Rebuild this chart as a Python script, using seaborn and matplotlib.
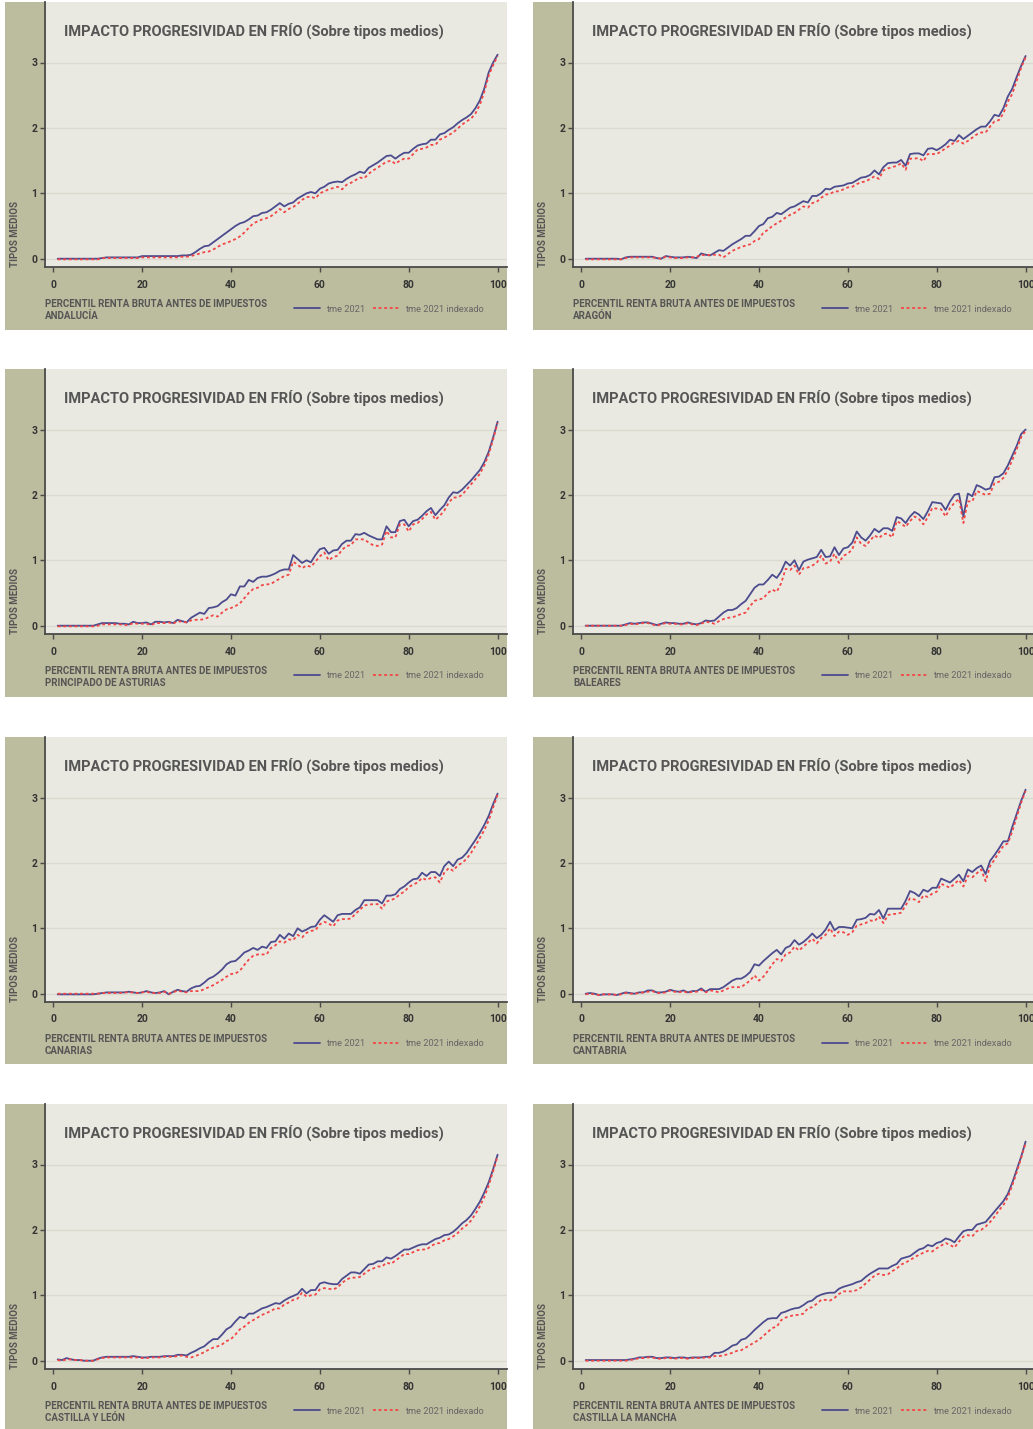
import matplotlib
matplotlib.use("Agg")
import matplotlib.pyplot as plt
import seaborn as sns
import pandas as pd
from matplotlib.patches import Rectangle
from matplotlib.transforms import Bbox, TransformedBbox

# ---------------------------------------------------------------- datos
percentil = list(range(1, 101))
x_ticks = [0, 20, 40, 60, 80, 100]
y_ticks = [0, 1, 2, 3]

titulo = "IMPACTO PROGRESIVIDAD EN FRÍO (Sobre tipos medios)"
eje_x = "PERCENTIL RENTA BRUTA ANTES DE IMPUESTOS"
eje_y = "TIPOS MEDIOS"
serie_1 = "tme 2021"
serie_2 = "tme 2021 indexado"

regiones = ["ANDALUCÍA", "ARAGÓN", "PRINCIPADO DE ASTURIAS", "BALEARES",
            "CANARIAS", "CANTABRIA", "CASTILLA Y LEÓN", "CASTILLA LA MANCHA"]

tme_andalucia = [
    0.00, 0.00, 0.00, 0.00, 0.00, 0.00, 0.00, 0.00, 0.00, 0.00,
    0.01, 0.02, 0.02, 0.02, 0.02, 0.02, 0.02, 0.02, 0.02, 0.04,
    0.04, 0.04, 0.04, 0.04, 0.04, 0.04, 0.04, 0.04, 0.05, 0.05,
    0.06, 0.10, 0.15, 0.19, 0.20, 0.25, 0.30, 0.35, 0.40, 0.45,
    0.50, 0.54, 0.56, 0.60, 0.65, 0.66, 0.70, 0.71, 0.75, 0.80,
    0.85, 0.80, 0.84, 0.86, 0.92, 0.96, 1.00, 1.02, 1.00, 1.07,
    1.10, 1.15, 1.17, 1.18, 1.17, 1.22, 1.26, 1.29, 1.33, 1.31,
    1.39, 1.43, 1.47, 1.52, 1.57, 1.58, 1.53, 1.58, 1.62, 1.62,
    1.68, 1.73, 1.75, 1.76, 1.82, 1.82, 1.90, 1.92, 1.97, 2.01,
    2.07, 2.12, 2.16, 2.21, 2.30, 2.42, 2.60, 2.85, 3.00, 3.12]
tme_idx_andalucia = [
    -0.01, -0.01, -0.01, -0.01, -0.01, -0.01, -0.01, -0.01, -0.01, -0.01,
    0.01, 0.01, 0.01, 0.01, 0.01, 0.01, 0.01, 0.01, 0.01, 0.02,
    0.02, 0.02, 0.02, 0.02, 0.02, 0.02, 0.02, 0.02, 0.03, 0.03,
    0.04, 0.06, 0.08, 0.10, 0.11, 0.14, 0.18, 0.22, 0.24, 0.27,
    0.30, 0.34, 0.40, 0.47, 0.54, 0.57, 0.60, 0.62, 0.65, 0.70,
    0.76, 0.71, 0.76, 0.79, 0.84, 0.90, 0.94, 0.95, 0.92, 1.00,
    1.03, 1.06, 1.08, 1.10, 1.06, 1.13, 1.16, 1.20, 1.24, 1.23,
    1.30, 1.35, 1.39, 1.44, 1.48, 1.50, 1.45, 1.50, 1.53, 1.53,
    1.60, 1.67, 1.68, 1.70, 1.74, 1.74, 1.82, 1.85, 1.89, 1.93,
    1.99, 2.05, 2.10, 2.14, 2.22, 2.35, 2.55, 2.80, 2.96, 3.10]

tme_aragon = [
    0.00, 0.00, 0.00, 0.00, 0.00, 0.00, 0.00, 0.00, -0.01, 0.02,
    0.03, 0.03, 0.03, 0.03, 0.03, 0.03, 0.01, 0.00, 0.04, 0.03,
    0.02, 0.02, 0.02, 0.03, 0.02, 0.01, 0.08, 0.06, 0.05, 0.09,
    0.13, 0.12, 0.17, 0.22, 0.26, 0.30, 0.35, 0.35, 0.42, 0.50,
    0.53, 0.62, 0.64, 0.70, 0.68, 0.73, 0.78, 0.80, 0.84, 0.88,
    0.86, 0.96, 0.96, 1.00, 1.07, 1.06, 1.10, 1.11, 1.12, 1.15,
    1.16, 1.20, 1.24, 1.25, 1.28, 1.35, 1.29, 1.40, 1.46, 1.47,
    1.47, 1.51, 1.42, 1.60, 1.61, 1.61, 1.58, 1.68, 1.69, 1.66,
    1.70, 1.75, 1.82, 1.80, 1.89, 1.83, 1.88, 1.93, 1.98, 2.02,
    2.02, 2.10, 2.20, 2.18, 2.30, 2.48, 2.60, 2.78, 2.95, 3.10]
tme_idx_aragon = [
    -0.01, -0.01, -0.01, -0.01, -0.01, -0.01, -0.01, -0.01, -0.01, 0.01,
    0.02, 0.02, 0.02, 0.02, 0.02, 0.02, 0.01, 0.00, 0.03, 0.02,
    0.01, 0.01, 0.01, 0.02, 0.02, 0.03, 0.06, 0.05, 0.06, 0.06,
    0.06, 0.02, 0.07, 0.12, 0.15, 0.18, 0.20, 0.22, 0.27, 0.30,
    0.40, 0.44, 0.50, 0.54, 0.58, 0.63, 0.67, 0.70, 0.75, 0.80,
    0.78, 0.85, 0.87, 0.93, 0.98, 0.99, 1.03, 1.03, 1.06, 1.09,
    1.10, 1.14, 1.17, 1.18, 1.22, 1.26, 1.22, 1.35, 1.38, 1.40,
    1.42, 1.46, 1.36, 1.53, 1.53, 1.54, 1.49, 1.60, 1.60, 1.60,
    1.64, 1.69, 1.73, 1.78, 1.80, 1.76, 1.80, 1.85, 1.90, 1.93,
    1.93, 2.02, 2.10, 2.12, 2.22, 2.40, 2.52, 2.72, 2.92, 3.08]

tme_asturias = [
    0.00, 0.00, 0.00, 0.00, 0.00, 0.00, 0.00, 0.00, 0.00, 0.02,
    0.04, 0.04, 0.04, 0.04, 0.03, 0.03, 0.02, 0.06, 0.04, 0.04,
    0.05, 0.02, 0.06, 0.06, 0.05, 0.06, 0.04, 0.09, 0.07, 0.05,
    0.12, 0.16, 0.20, 0.18, 0.27, 0.28, 0.30, 0.36, 0.40, 0.48,
    0.46, 0.60, 0.60, 0.70, 0.67, 0.73, 0.75, 0.75, 0.77, 0.80,
    0.84, 0.86, 0.86, 1.08, 1.02, 0.96, 1.00, 0.97, 1.08, 1.17,
    1.19, 1.10, 1.15, 1.16, 1.25, 1.30, 1.30, 1.40, 1.39, 1.42,
    1.38, 1.35, 1.32, 1.32, 1.52, 1.43, 1.43, 1.60, 1.62, 1.52,
    1.60, 1.62, 1.68, 1.75, 1.80, 1.69, 1.77, 1.84, 1.96, 2.04,
    2.03, 2.08, 2.15, 2.22, 2.30, 2.38, 2.50, 2.66, 2.88, 3.12]
tme_idx_asturias = [
    -0.01, -0.01, -0.01, -0.01, -0.01, -0.01, -0.01, -0.01, -0.01, 0.00,
    0.02, 0.02, 0.02, 0.02, 0.02, 0.01, 0.01, 0.04, 0.03, 0.03,
    0.03, 0.01, 0.04, 0.04, 0.04, 0.05, 0.03, 0.07, 0.06, 0.05,
    0.08, 0.09, 0.09, 0.10, 0.13, 0.16, 0.14, 0.20, 0.25, 0.27,
    0.30, 0.34, 0.42, 0.50, 0.56, 0.58, 0.62, 0.63, 0.64, 0.68,
    0.72, 0.76, 0.78, 0.98, 0.93, 0.88, 0.92, 0.90, 0.98, 1.06,
    1.12, 1.00, 1.05, 1.07, 1.16, 1.22, 1.23, 1.32, 1.32, 1.32,
    1.27, 1.23, 1.22, 1.24, 1.45, 1.35, 1.35, 1.55, 1.55, 1.44,
    1.55, 1.57, 1.63, 1.70, 1.74, 1.62, 1.68, 1.76, 1.88, 1.96,
    1.96, 2.00, 2.08, 2.16, 2.24, 2.32, 2.45, 2.62, 2.85, 3.10]

tme_baleares = [
    0.00, 0.00, 0.00, 0.00, 0.00, 0.00, 0.00, 0.00, 0.00, 0.02,
    0.04, 0.03, 0.04, 0.05, 0.05, 0.03, 0.01, 0.03, 0.05, 0.04,
    0.04, 0.03, 0.03, 0.05, 0.03, 0.02, 0.04, 0.08, 0.07, 0.08,
    0.14, 0.20, 0.24, 0.24, 0.27, 0.33, 0.38, 0.48, 0.58, 0.63,
    0.63, 0.70, 0.78, 0.73, 0.83, 0.98, 0.92, 1.00, 0.85, 0.98,
    1.01, 1.03, 1.05, 1.16, 1.05, 1.06, 1.20, 1.08, 1.18, 1.20,
    1.27, 1.44, 1.35, 1.30, 1.38, 1.48, 1.43, 1.49, 1.49, 1.45,
    1.66, 1.64, 1.57, 1.67, 1.74, 1.70, 1.63, 1.75, 1.89, 1.88,
    1.87, 1.77, 1.90, 2.00, 2.02, 1.67, 2.02, 1.98, 2.15, 2.12,
    2.08, 2.10, 2.27, 2.28, 2.33, 2.45, 2.60, 2.75, 2.93, 3.00]
tme_idx_baleares = [
    0.00, 0.00, 0.00, 0.00, 0.00, 0.00, 0.00, 0.00, 0.00, 0.01,
    0.03, 0.02, 0.03, 0.04, 0.04, 0.02, 0.00, 0.02, 0.04, 0.03,
    0.03, 0.02, 0.02, 0.04, 0.02, 0.01, 0.03, 0.06, 0.05, 0.03,
    0.07, 0.10, 0.12, 0.13, 0.15, 0.18, 0.20, 0.30, 0.38, 0.40,
    0.42, 0.50, 0.55, 0.52, 0.65, 0.87, 0.85, 0.92, 0.78, 0.88,
    0.89, 0.92, 0.96, 1.07, 0.95, 0.98, 1.10, 0.96, 1.07, 1.10,
    1.17, 1.35, 1.25, 1.22, 1.30, 1.38, 1.34, 1.40, 1.41, 1.35,
    1.60, 1.56, 1.51, 1.60, 1.67, 1.63, 1.55, 1.66, 1.80, 1.79,
    1.78, 1.67, 1.80, 1.88, 1.94, 1.57, 1.90, 1.90, 2.06, 2.03,
    2.00, 2.02, 2.18, 2.20, 2.26, 2.38, 2.53, 2.70, 2.88, 2.98]

tme_canarias = [
    -0.01, -0.01, -0.01, -0.01, -0.01, -0.01, -0.01, -0.01, -0.01, 0.00,
    0.01, 0.02, 0.02, 0.02, 0.02, 0.02, 0.03, 0.02, 0.01, 0.02,
    0.04, 0.02, 0.01, 0.02, 0.04, -0.01, 0.03, 0.06, 0.04, 0.03,
    0.08, 0.11, 0.12, 0.17, 0.23, 0.26, 0.31, 0.37, 0.45, 0.49,
    0.50, 0.56, 0.63, 0.66, 0.70, 0.67, 0.72, 0.70, 0.79, 0.80,
    0.90, 0.84, 0.92, 0.88, 1.00, 0.95, 0.98, 1.02, 1.03, 1.13,
    1.20, 1.15, 1.10, 1.20, 1.22, 1.22, 1.22, 1.28, 1.32, 1.43,
    1.43, 1.43, 1.43, 1.38, 1.50, 1.50, 1.52, 1.60, 1.64, 1.70,
    1.75, 1.76, 1.85, 1.80, 1.86, 1.86, 1.80, 1.95, 2.02, 1.95,
    2.05, 2.08, 2.15, 2.25, 2.35, 2.46, 2.58, 2.72, 2.90, 3.06]
tme_idx_canarias = [
    0.00, 0.00, 0.00, 0.00, 0.00, 0.00, 0.00, 0.00, 0.00, 0.00,
    0.01, 0.01, 0.01, 0.01, 0.01, 0.02, 0.02, 0.02, 0.01, 0.02,
    0.03, 0.01, 0.01, 0.01, 0.03, 0.00, 0.02, 0.05, 0.03, 0.02,
    0.04, 0.04, 0.04, 0.07, 0.10, 0.13, 0.17, 0.21, 0.26, 0.30,
    0.31, 0.35, 0.44, 0.52, 0.58, 0.60, 0.60, 0.60, 0.70, 0.74,
    0.80, 0.78, 0.83, 0.82, 0.90, 0.86, 0.93, 0.96, 0.97, 1.06,
    1.10, 1.07, 1.03, 1.12, 1.14, 1.14, 1.15, 1.22, 1.28, 1.35,
    1.36, 1.37, 1.37, 1.30, 1.41, 1.43, 1.46, 1.52, 1.56, 1.63,
    1.67, 1.70, 1.77, 1.74, 1.77, 1.78, 1.70, 1.85, 1.92, 1.88,
    1.96, 2.00, 2.06, 2.15, 2.26, 2.38, 2.50, 2.65, 2.85, 3.04]

tme_cantabria = [
    0.00, 0.01, 0.00, -0.02, -0.01, -0.01, -0.01, -0.02, 0.00, 0.02,
    0.01, 0.00, 0.02, 0.02, 0.05, 0.05, 0.02, 0.02, 0.03, 0.06,
    0.04, 0.03, 0.05, 0.02, 0.04, 0.04, 0.08, 0.03, 0.07, 0.07,
    0.07, 0.10, 0.15, 0.20, 0.23, 0.23, 0.27, 0.33, 0.45, 0.43,
    0.50, 0.56, 0.62, 0.67, 0.60, 0.70, 0.73, 0.82, 0.75, 0.79,
    0.85, 0.92, 0.85, 0.90, 0.98, 1.10, 0.97, 1.02, 1.02, 1.01,
    1.00, 1.13, 1.14, 1.16, 1.22, 1.21, 1.28, 1.15, 1.30, 1.30,
    1.30, 1.30, 1.42, 1.57, 1.54, 1.49, 1.59, 1.56, 1.62, 1.62,
    1.76, 1.73, 1.70, 1.76, 1.82, 1.72, 1.90, 1.86, 1.92, 1.96,
    1.83, 2.03, 2.12, 2.22, 2.33, 2.33, 2.55, 2.75, 2.95, 3.12]
tme_idx_cantabria = [
    -0.01, 0.00, -0.01, -0.02, -0.01, -0.01, -0.01, -0.02, -0.01, 0.01,
    0.00, 0.00, 0.01, 0.02, 0.03, 0.04, 0.01, 0.01, 0.02, 0.05,
    0.03, 0.02, 0.04, 0.01, 0.03, 0.03, 0.06, 0.02, 0.05, 0.04,
    0.02, 0.05, 0.08, 0.10, 0.10, 0.10, 0.15, 0.20, 0.28, 0.20,
    0.26, 0.35, 0.45, 0.53, 0.50, 0.60, 0.63, 0.72, 0.66, 0.72,
    0.78, 0.84, 0.77, 0.85, 0.90, 1.00, 0.88, 0.95, 0.94, 0.90,
    0.94, 1.04, 1.06, 1.08, 1.12, 1.11, 1.18, 1.08, 1.20, 1.22,
    1.22, 1.24, 1.35, 1.46, 1.44, 1.40, 1.50, 1.48, 1.53, 1.56,
    1.68, 1.65, 1.62, 1.68, 1.74, 1.64, 1.80, 1.78, 1.84, 1.90,
    1.72, 1.95, 2.05, 2.16, 2.26, 2.30, 2.48, 2.70, 2.92, 3.10]

tme_castilla_leon = [
    0.02, 0.01, 0.04, 0.02, 0.01, 0.01, 0.00, 0.00, 0.00, 0.03,
    0.05, 0.06, 0.06, 0.06, 0.06, 0.06, 0.06, 0.07, 0.06, 0.05,
    0.05, 0.06, 0.06, 0.06, 0.07, 0.07, 0.07, 0.09, 0.09, 0.08,
    0.12, 0.15, 0.19, 0.22, 0.28, 0.33, 0.33, 0.40, 0.48, 0.52,
    0.60, 0.67, 0.65, 0.72, 0.72, 0.76, 0.80, 0.82, 0.85, 0.88,
    0.87, 0.92, 0.96, 0.99, 1.02, 1.10, 1.03, 1.08, 1.08, 1.18,
    1.20, 1.18, 1.17, 1.17, 1.25, 1.30, 1.35, 1.35, 1.33, 1.40,
    1.47, 1.48, 1.52, 1.52, 1.58, 1.56, 1.60, 1.65, 1.70, 1.70,
    1.73, 1.76, 1.78, 1.78, 1.82, 1.86, 1.88, 1.92, 1.93, 1.97,
    2.03, 2.10, 2.15, 2.22, 2.32, 2.43, 2.57, 2.73, 2.93, 3.15]
tme_idx_castilla_leon = [
    0.01, 0.00, 0.02, 0.02, 0.01, 0.01, 0.00, 0.00, 0.00, 0.02,
    0.04, 0.05, 0.05, 0.05, 0.05, 0.05, 0.05, 0.05, 0.05, 0.04,
    0.04, 0.05, 0.05, 0.05, 0.06, 0.06, 0.06, 0.07, 0.08, 0.06,
    0.05, 0.07, 0.10, 0.13, 0.17, 0.20, 0.22, 0.25, 0.30, 0.33,
    0.40, 0.48, 0.52, 0.58, 0.62, 0.66, 0.70, 0.73, 0.76, 0.80,
    0.80, 0.86, 0.89, 0.93, 0.95, 1.04, 0.98, 1.00, 1.01, 1.09,
    1.11, 1.10, 1.09, 1.12, 1.19, 1.24, 1.27, 1.27, 1.28, 1.33,
    1.38, 1.41, 1.44, 1.44, 1.50, 1.48, 1.53, 1.58, 1.63, 1.63,
    1.66, 1.69, 1.70, 1.70, 1.75, 1.79, 1.80, 1.84, 1.86, 1.90,
    1.95, 2.02, 2.07, 2.14, 2.24, 2.36, 2.50, 2.68, 2.90, 3.13]

tme_castilla_mancha = [
    0.01, 0.01, 0.01, 0.01, 0.01, 0.01, 0.01, 0.01, 0.01, 0.01,
    0.02, 0.03, 0.05, 0.05, 0.06, 0.06, 0.04, 0.04, 0.05, 0.05,
    0.04, 0.05, 0.05, 0.04, 0.05, 0.05, 0.05, 0.06, 0.06, 0.12,
    0.12, 0.14, 0.18, 0.23, 0.25, 0.32, 0.34, 0.40, 0.47, 0.53,
    0.59, 0.64, 0.65, 0.65, 0.73, 0.75, 0.78, 0.80, 0.81, 0.85,
    0.90, 0.92, 0.98, 1.01, 1.03, 1.04, 1.04, 1.10, 1.13, 1.15,
    1.17, 1.20, 1.22, 1.28, 1.33, 1.37, 1.41, 1.41, 1.41, 1.45,
    1.48, 1.56, 1.58, 1.60, 1.65, 1.70, 1.72, 1.77, 1.75, 1.80,
    1.82, 1.87, 1.85, 1.81, 1.90, 1.98, 2.00, 2.00, 2.08, 2.10,
    2.12, 2.20, 2.28, 2.36, 2.44, 2.55, 2.72, 2.92, 3.12, 3.35]
tme_idx_castilla_mancha = [
    0.00, 0.00, 0.00, 0.00, 0.00, 0.00, 0.00, 0.00, 0.00, 0.00,
    0.01, 0.02, 0.04, 0.04, 0.05, 0.05, 0.03, 0.03, 0.04, 0.04,
    0.03, 0.04, 0.04, 0.03, 0.04, 0.04, 0.04, 0.05, 0.05, 0.07,
    0.07, 0.08, 0.10, 0.12, 0.15, 0.16, 0.20, 0.24, 0.28, 0.32,
    0.38, 0.44, 0.50, 0.52, 0.62, 0.66, 0.68, 0.70, 0.70, 0.72,
    0.80, 0.82, 0.87, 0.93, 0.93, 0.92, 0.96, 1.02, 1.06, 1.06,
    1.06, 1.08, 1.12, 1.18, 1.24, 1.30, 1.33, 1.31, 1.32, 1.37,
    1.41, 1.47, 1.50, 1.54, 1.58, 1.62, 1.65, 1.68, 1.67, 1.72,
    1.76, 1.80, 1.77, 1.73, 1.82, 1.90, 1.92, 1.90, 1.98, 2.00,
    2.05, 2.12, 2.20, 2.30, 2.38, 2.50, 2.68, 2.88, 3.10, 3.33]

series_tme = [tme_andalucia, tme_aragon, tme_asturias, tme_baleares,
              tme_canarias, tme_cantabria, tme_castilla_leon, tme_castilla_mancha]
series_idx = [tme_idx_andalucia, tme_idx_aragon, tme_idx_asturias, tme_idx_baleares,
              tme_idx_canarias, tme_idx_cantabria, tme_idx_castilla_leon,
              tme_idx_castilla_mancha]

# ---------------------------------------------------------------- estilo
W, H, DPI = 1033, 1429, 100
FONDO_PANEL = "#bcbc9f"
FONDO_GRAF = "#e9e9e1"
REJILLA = "#dadad1"
AZUL = "#4c4b8e"
ROJO = "#f24646"
GRIS_TXT = "#555555"
GRIS_EJE = "#4a4a4a"

sns.set_theme(style="ticks")
plt.rcParams["font.family"] = ["Roboto", "DejaVu Sans"]

fig = plt.figure(figsize=(W / DPI, H / DPI), dpi=DPI)
fig.patch.set_facecolor("white")


def fx(px):
    return px / W


def fy(py):
    return 1 - py / H


columnas = [(5, 507), (533, 1033)]
filas = [(2, 330), (369, 697), (737, 1064), (1104, 1429)]
PX_X = 4.444      # pixels per percentile
PX_Y = 65.4       # pixels per point of tipo medio

for i, (nombre, tme, tme_idx) in enumerate(zip(regiones, series_tme, series_idx)):
    fila, col = divmod(i, 2)
    x0, x1 = columnas[col]
    y0, y1 = filas[fila]

    # panel background, kept below the axes
    fig.patches.append(Rectangle((fx(x0), fy(y1)), fx(x1) - fx(x0), fy(y0) - fy(y1),
                                 transform=fig.transFigure, facecolor=FONDO_PANEL,
                                 edgecolor="none", zorder=-5))

    ax_l = x0 + 40
    ax_b = y0 + 265
    ax = fig.add_axes([fx(ax_l), fy(ax_b), (x1 - ax_l) / W, (ax_b - y0) / H])
    ax.set_facecolor(FONDO_GRAF)

    df = pd.DataFrame({"percentil": percentil, "tme": tme, "tme_idx": tme_idx})
    sns.lineplot(data=df, x="percentil", y="tme", ax=ax, color=AZUL,
                 linewidth=1.3, label=serie_1, zorder=3)
    sns.lineplot(data=df, x="percentil", y="tme_idx", ax=ax, color=ROJO,
                 linewidth=1.3, linestyle=(0, (1.6, 1.5)), label=serie_2, zorder=4)

    ancho = x1 - ax_l
    ax.set_xlim(-8.2 / PX_X, (ancho - 8.2) / PX_X)
    ax.set_ylim(-8.3 / PX_Y, (265 - 8.3) / PX_Y)
    ax.set_xticks(x_ticks)
    ax.set_yticks(y_ticks)
    ax.set_xlabel("")
    ax.set_ylabel("")

    ax.yaxis.grid(True, color=REJILLA, linewidth=1.0)
    ax.set_axisbelow(True)
    for lado in ["top", "right"]:
        ax.spines[lado].set_visible(False)
    for lado in ["left", "bottom"]:
        ax.spines[lado].set_color(GRIS_EJE)
        ax.spines[lado].set_linewidth(1.3)

    ax.tick_params(axis="both", direction="out", length=3.5, width=1.0,
                   color=GRIS_EJE, labelsize=7.4, labelcolor="#333333")
    ax.tick_params(axis="x", pad=5.5)
    ax.tick_params(axis="y", pad=2)

    recorte = TransformedBbox(Bbox.from_extents(fx(x0), fy(y1), fx(x1), fy(y0)),
                              fig.transFigure)
    for lbl in ax.get_xticklabels() + ax.get_yticklabels():
        lbl.set_fontweight("bold")
        lbl.set_clip_box(recorte)
        lbl.set_clip_on(True)

    ax.legend(loc="center left", bbox_to_anchor=(fx(x0 + 289), fy(y0 + 307)),
              bbox_transform=fig.transFigure, ncol=2, frameon=False, fontsize=6.7,
              handlelength=2.8, handletextpad=0.65, columnspacing=0.8,
              borderpad=0, borderaxespad=0, labelcolor="#666666")

    fig.text(fx(x0 + 59), fy(y0 + 29), titulo, fontsize=10.5, fontweight="bold",
             color=GRIS_TXT, va="center", ha="left")
    fig.text(fx(x0 + 40), fy(y0 + 297), eje_x + "\n" + nombre, fontsize=7.0,
             fontweight="bold", color=GRIS_TXT, va="top", ha="left", linespacing=1.25)
    fig.text(fx(x0 + 10), fy(y0 + 265), eje_y, rotation=90, fontsize=7.0,
             fontweight="bold", color=GRIS_TXT, va="bottom", ha="center")

fig.savefig("out.png", dpi=DPI, facecolor="white")
